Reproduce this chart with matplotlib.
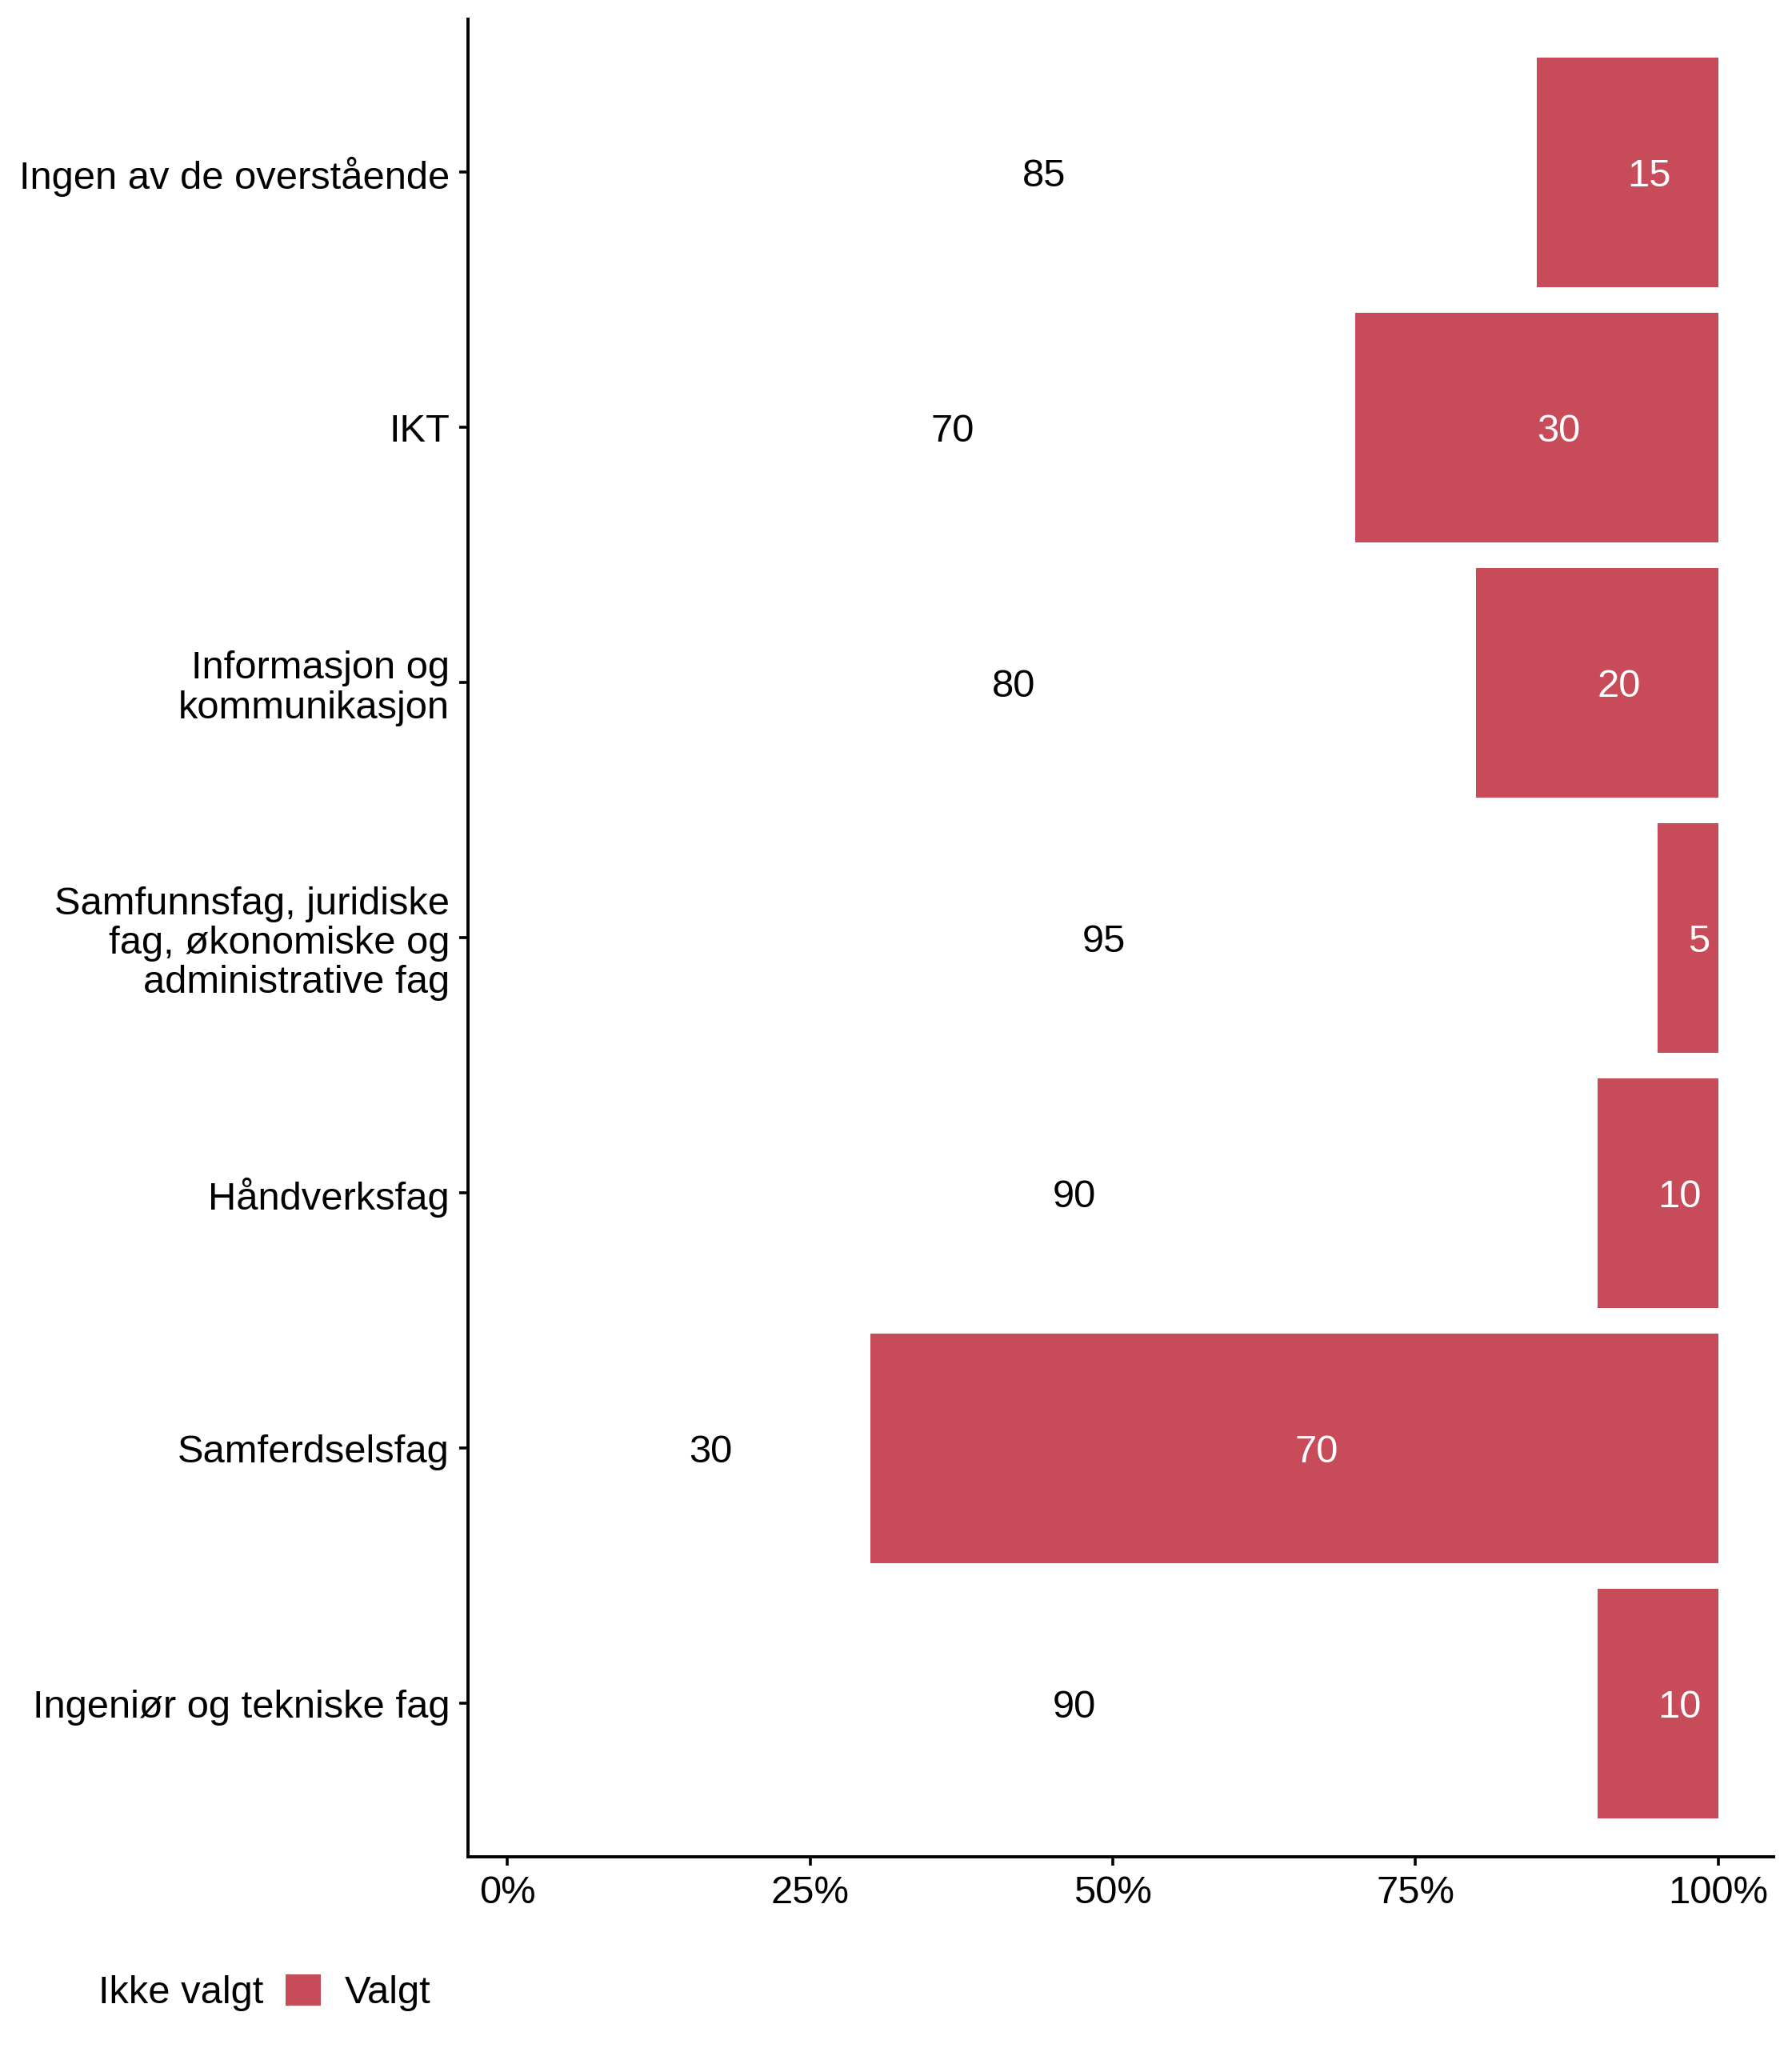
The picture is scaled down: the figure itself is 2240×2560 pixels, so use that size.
import matplotlib
matplotlib.use("Agg")
import matplotlib.pyplot as plt
from matplotlib.patches import Patch

plt.rcParams['font.family'] = ['Liberation Sans', 'DejaVu Sans']

categories = [
    "Ingen av de overstående",
    "IKT",
    "Informasjon og\nkommunikasjon",
    "Samfunnsfag, juridiske\nfag, økonomiske og\nadministrative fag",
    "Håndverksfag",
    "Samferdselsfag",
    "Ingeniør og tekniske fag",
]
ikke_valgt = [85, 70, 80, 95, 90, 30, 90]
valgt = [15, 30, 20, 5, 10, 70, 10]
series_names = ["Ikke valgt", "Valgt"]
xticks = [0, 25, 50, 75, 100]
xticklabels = ["0%", "25%", "50%", "75%", "100%"]

red = "#C84B5A"
fs = 17.6

fig = plt.figure(figsize=(11.2, 12.8), dpi=200)
ax = fig.add_axes([0.2612, 0.0934, 0.9897 - 0.2612, 0.9906 - 0.0934])

ypos = list(range(len(categories)))
ax.barh(ypos, ikke_valgt, left=0, height=0.9, color="white", linewidth=0)
ax.barh(ypos, valgt, left=ikke_valgt, height=0.9, color=red, linewidth=0)

for y, a, b in zip(ypos, ikke_valgt, valgt):
    ax.text(a / 2, y, f"{a}", ha="left", va="center_baseline", fontsize=fs, color="black")
    ax.text(a + b / 2, y, f"{b}", ha="left", va="center_baseline", fontsize=fs, color="white")

ax.set_ylim(len(categories) - 1 + 0.6, -0.6)
ax.set_xlim(-3.24, 104.56)
ax.set_yticks(ypos)
ax.set_yticklabels(categories, fontsize=fs, linespacing=1.12)
ax.set_xticks(xticks)
ax.set_xticklabels(xticklabels, fontsize=fs)

for s in ["top", "right"]:
    ax.spines[s].set_visible(False)
for s in ["left", "bottom"]:
    ax.spines[s].set_linewidth(1.4)
ax.tick_params(axis="both", length=4, width=1.3, pad=4.3, colors="black", labelcolor="black")

handles = [Patch(facecolor="white", edgecolor="none"), Patch(facecolor=red, edgecolor="none")]
fig.legend(handles, series_names, loc="center left", bbox_to_anchor=(0.022, 0.027),
           ncol=2, frameon=False, fontsize=fs, handlelength=0.9, handleheight=0.86,
           handletextpad=0.6, columnspacing=0.58, borderpad=0, borderaxespad=0)

fig.savefig("out.png", dpi=200)
